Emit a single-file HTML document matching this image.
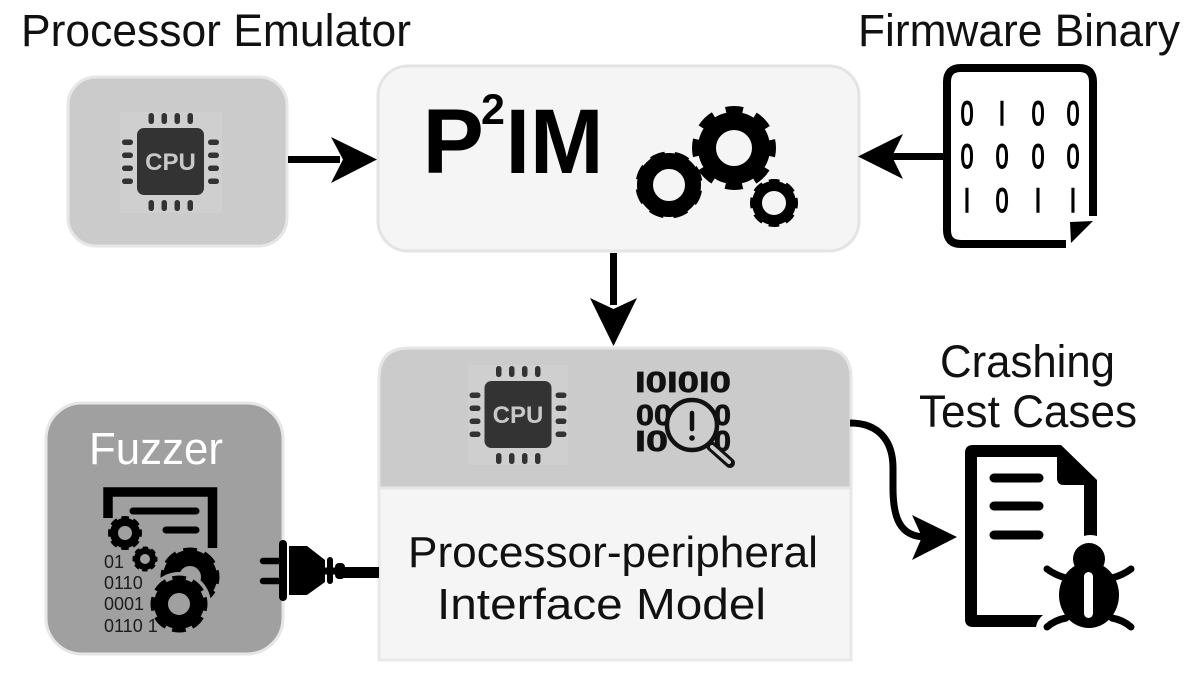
<!DOCTYPE html>
<html><head><meta charset="utf-8"><title>P2IM</title>
<style>html,body{margin:0;padding:0;background:#fff}svg{display:block}text{font-family:"Liberation Sans",sans-serif}</style></head>
<body>
<svg width="1200" height="688" viewBox="0 0 1200 688" xmlns="http://www.w3.org/2000/svg">
<defs>
<g id="pins" fill="#333">
<rect x="-22" y="-48.5" width="5.5" height="11" rx="2.7"/><rect x="-9" y="-48.5" width="5.5" height="11" rx="2.7"/><rect x="4" y="-48.5" width="5.5" height="11" rx="2.7"/><rect x="17" y="-48.5" width="5.5" height="11" rx="2.7"/>
<rect x="-22" y="38.5" width="5.5" height="11" rx="2.7"/><rect x="-9" y="38.5" width="5.5" height="11" rx="2.7"/><rect x="4" y="38.5" width="5.5" height="11" rx="2.7"/><rect x="17" y="38.5" width="5.5" height="11" rx="2.7"/>
<rect x="-48.5" y="-22" width="11" height="5.5" rx="2.7"/><rect x="-48.5" y="-9" width="11" height="5.5" rx="2.7"/><rect x="-48.5" y="4" width="11" height="5.5" rx="2.7"/><rect x="-48.5" y="17" width="11" height="5.5" rx="2.7"/>
<rect x="37.5" y="-22" width="11" height="5.5" rx="2.7"/><rect x="37.5" y="-9" width="11" height="5.5" rx="2.7"/><rect x="37.5" y="4" width="11" height="5.5" rx="2.7"/><rect x="37.5" y="17" width="11" height="5.5" rx="2.7"/>
<rect x="-33.5" y="-33.5" width="67" height="67" rx="7"/>
</g>
</defs>

<!-- boxes -->
<rect x="68" y="77" width="219" height="169" rx="28" fill="#cbcbcb" stroke="#e6e6e6" stroke-width="3"/>
<rect x="378" y="66" width="481" height="185" rx="30" fill="#f5f5f5" stroke="#e4e4e4" stroke-width="3"/>
<path d="M379 660V488H851V660Z" fill="#f5f5f5" stroke="#e8e8e8" stroke-width="3"/>
<path d="M379 488V378Q379 348 409 348H821Q851 348 851 378V488Z" fill="#cbcbcb" stroke="#e6e6e6" stroke-width="3"/>
<rect x="46" y="403" width="237" height="251" rx="36" fill="#a0a0a0" stroke="#e6e6e6" stroke-width="3"/>

<!-- titles -->
<text x="21" y="46" font-size="45" textLength="390" lengthAdjust="spacingAndGlyphs" fill="#111">Processor Emulator</text>
<text x="858" y="46" font-size="45" textLength="322" lengthAdjust="spacingAndGlyphs" fill="#111">Firmware Binary</text>
<text x="940" y="377" font-size="45" textLength="175" lengthAdjust="spacingAndGlyphs" fill="#111">Crashing</text>
<text x="919" y="427" font-size="45" textLength="218" lengthAdjust="spacingAndGlyphs" fill="#111">Test Cases</text>
<text x="408" y="567" font-size="44" textLength="410" lengthAdjust="spacingAndGlyphs" fill="#111">Processor-peripheral</text>
<text x="437" y="619" font-size="44" textLength="329" lengthAdjust="spacingAndGlyphs" fill="#111">Interface Model</text>
<text x="89" y="464" font-size="45" textLength="134" lengthAdjust="spacingAndGlyphs" fill="#fff">Fuzzer</text>

<!-- P2IM -->
<text x="422.500" y="173" font-size="92" font-weight="bold" fill="#000">P</text>
<text x="481" y="124" font-size="43" font-weight="bold" fill="#000">2</text>
<text x="505.500" y="173" font-size="92" font-weight="bold" textLength="98" lengthAdjust="spacingAndGlyphs" fill="#000">IM</text>

<!-- gears main -->
<g fill="none" stroke="#000">
<circle cx="734" cy="148" r="27" stroke-width="18"/>
<circle cx="734" cy="148" r="38" stroke-width="8" stroke-dasharray="17 12.850" stroke-dashoffset="8.500" stroke-linejoin="round"/>
<circle cx="669" cy="185" r="24" stroke-width="16"/>
<circle cx="669" cy="185" r="30" stroke-width="7" stroke-dasharray="14 9.560" transform="rotate(10 669 185)"/>
<circle cx="774" cy="203" r="17" stroke-width="10"/>
<circle cx="774" cy="203" r="21" stroke-width="6" stroke-dasharray="10 6.500" stroke-dashoffset="5"/>
</g>

<!-- CPU 1 -->
<rect x="120" y="112" width="102" height="101" fill="#cfcfcf"/>
<use href="#pins" transform="translate(170.5 161.5)"/>
<text x="170.5" y="170" font-size="24" font-weight="bold" fill="#c8c8c8" text-anchor="middle">CPU</text>

<!-- CPU 2 -->
<rect x="468" y="365" width="100" height="100" fill="#cfcfcf"/>
<use href="#pins" transform="translate(518 414.5)"/>
<text x="518" y="423" font-size="24" font-weight="bold" fill="#c8c8c8" text-anchor="middle">CPU</text>

<!-- arrows -->
<path d="M288 156H340V163H288Z" fill="#000"/>
<path d="M377 159.500L331 137L343 159.500L331 183Z" fill="#000"/>
<path d="M943 153H885V160H943Z" fill="#000"/>
<path d="M858 156.500L903 134L892 156.500L903 179Z" fill="#000"/>
<path d="M610 253H617V305H610Z" fill="#000"/>
<path d="M613.500 346L590 298L613.500 309L637 298Z" fill="#000"/>
<path d="M850 423C878 423 893 440 893 468V488C893 518 900 537 926 537" fill="none" stroke="#000" stroke-width="7"/>
<path d="M957 537L912 515L922 537L912 560Z" fill="#000"/>

<!-- firmware document -->
<path d="M1093 216V82Q1093 68 1079 68H961Q947 68 947 82V230Q947 244 961 244H1066" fill="none" stroke="#000" stroke-width="8"/>
<path d="M1070 222L1093 221L1071 243Z" fill="#000"/>
<g font-size="34" fill="#000" text-anchor="middle" stroke="#000" stroke-width="1.400">
<text transform="translate(967 125) scale(.68 1)">0</text><text transform="translate(1002 125) scale(.68 1)">I</text><text transform="translate(1038 125) scale(.68 1)">0</text><text transform="translate(1073 125) scale(.68 1)">0</text>
<text transform="translate(967 168) scale(.68 1)">0</text><text transform="translate(1002 168) scale(.68 1)">0</text><text transform="translate(1038 168) scale(.68 1)">0</text><text transform="translate(1073 168) scale(.68 1)">0</text>
<text transform="translate(967 212) scale(.68 1)">I</text><text transform="translate(1002 212) scale(.68 1)">0</text><text transform="translate(1038 212) scale(.68 1)">I</text><text transform="translate(1073 212) scale(.68 1)">I</text>
</g>

<!-- binary + magnifier -->
<g font-size="29" font-weight="bold" fill="#111" stroke="#111" stroke-width=".7">
<text x="635" y="392" textLength="96" lengthAdjust="spacingAndGlyphs">I0I0I0</text>
<text x="636" y="425" textLength="36" lengthAdjust="spacingAndGlyphs">00</text>
<text x="714" y="425" textLength="17" lengthAdjust="spacingAndGlyphs">0</text>
<text x="635" y="451" textLength="33" lengthAdjust="spacingAndGlyphs">I0</text>
<text x="714" y="451" textLength="17" lengthAdjust="spacingAndGlyphs">0</text>
</g>
<circle cx="692" cy="425" r="25" fill="#cdcdcd" stroke="#111" stroke-width="4.500"/>
<path d="M711 446L730 463" stroke="#111" stroke-width="10" stroke-linecap="round"/>
<path d="M712 447L729 462" stroke="#cbcbcb" stroke-width="4" stroke-linecap="round"/>
<path d="M692 413V429" stroke="#111" stroke-width="4.500" stroke-linecap="round"/>
<circle cx="692" cy="438" r="2.800" fill="#111"/>

<!-- fuzzer icon -->
<path d="M108 518V492H212.500V548" fill="none" stroke="#000" stroke-width="9.500"/>
<path d="M133 511H196M166 530H196" stroke="#000" stroke-width="7" stroke-linecap="round"/>
<g fill="none" stroke="#000">
<circle cx="125" cy="533" r="11" stroke-width="8"/>
<circle cx="125" cy="533" r="14.500" stroke-width="5" stroke-dasharray="7 4.390" stroke-dashoffset="3.500"/>
<circle cx="145" cy="559" r="8" stroke-width="6"/>
<circle cx="145" cy="559" r="10.500" stroke-width="4" stroke-dasharray="5 3.250" stroke-dashoffset="2.500"/>
<circle cx="190" cy="577" r="19" stroke-width="16"/>
<circle cx="190" cy="577" r="26" stroke-width="7" stroke-dasharray="13 7.400" stroke-dashoffset="6.500"/>
</g>
<circle cx="179" cy="604" r="32" fill="#a0a0a0"/>
<g fill="none" stroke="#000">
<circle cx="179" cy="604" r="18" stroke-width="14"/>
<circle cx="179" cy="604" r="25" stroke-width="7" stroke-dasharray="13 6.630" stroke-dashoffset="6.500"/>
</g>
<g font-size="18" fill="#1c1c1c">
<text x="104" y="568">01</text><text x="104" y="589">0110</text><text x="104" y="610">0001</text><text x="104" y="632">0110 1</text>
</g>

<!-- plug -->
<path d="M263 561H282M263 581H282" stroke="#000" stroke-width="6.500" stroke-linecap="round"/>
<rect x="279" y="540" width="8" height="61" rx="4" fill="#000"/>
<path d="M289 546H307L325 560V582L307 595H289Z" fill="#000"/>
<rect x="327" y="557" width="6" height="27" rx="3" fill="#000"/>
<path d="M325 571H342" stroke="#000" stroke-width="7"/>
<rect x="335" y="563" width="10" height="16" rx="4" fill="#000"/>
<rect x="342" y="567" width="37" height="11" fill="#000"/>

<!-- crash document -->
<path fill-rule="evenodd" fill="#000" d="M973 445H1061L1097 480V536Q1090 534 1084 536V485H1064Q1057 485 1057 478V457H977V615H1043Q1037 620 1036 627H973Q965 627 965 619V453Q965 445 973 445Z"/>
<path d="M994 478H1039M994 506H1039M994 535H1039" stroke="#000" stroke-width="9" stroke-linecap="round"/>
<circle cx="1089" cy="559" r="16" fill="#000"/>
<ellipse cx="1089" cy="595" rx="30" ry="33" fill="#000"/>
<rect x="1084" y="572" width="9" height="46" rx="4.500" fill="#fff"/>
<path d="M1047 569Q1055 575 1066 578M1131 569Q1123 575 1112 578M1047 627Q1055 620 1066 618M1131 627Q1123 620 1112 618" fill="none" stroke="#000" stroke-width="7" stroke-linecap="round"/>
</svg>
</body></html>
